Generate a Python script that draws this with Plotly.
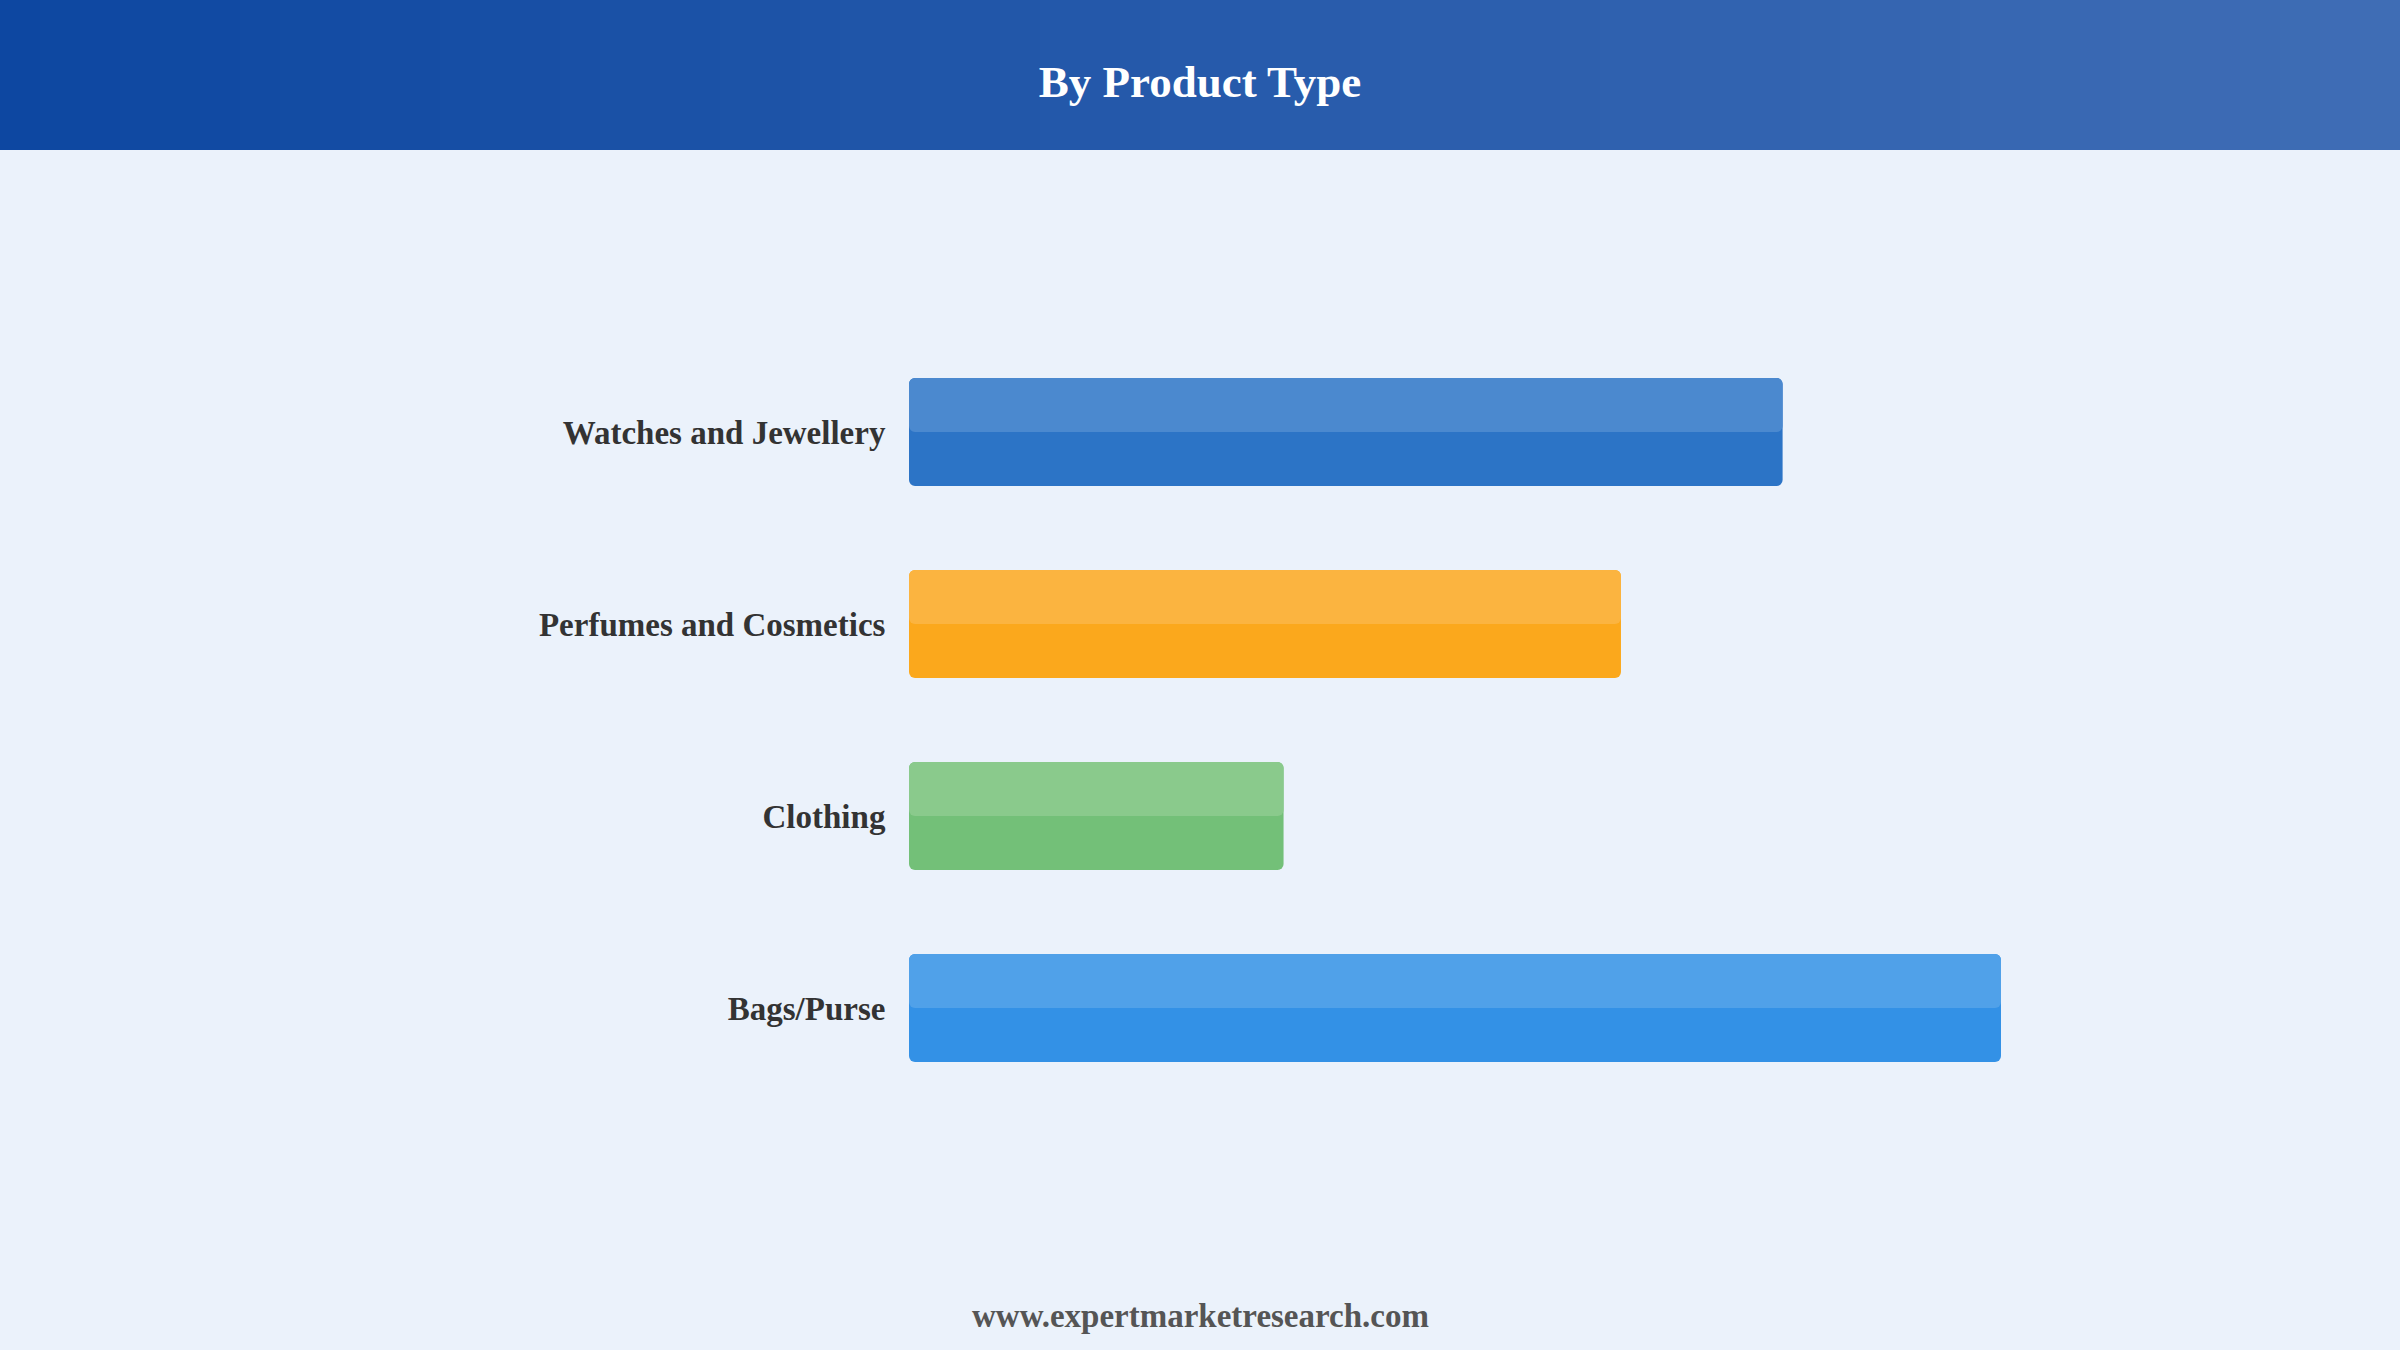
import plotly.graph_objects as go

categories = ["Watches and Jewellery", "Perfumes and Cosmetics", "Clothing", "Bags/Purse"]
values = [80, 65.2, 34.3, 100]
dark_colors = ["#2C74C6", "#FBA81C", "#73C078", "#3391E6"]
light_colors = ["#4B89CF", "#FBB440", "#8ACA8C", "#50A1E9"]

W, H = 2400, 1350
ML, MR, MT, MB = 909, 235, 336, 246
PW, PH = W - ML - MR, H - MT - MB

BAR_W = 0.5625
X_MAX = 100 * PW / 1092
RADIUS = 6

fig = go.Figure()


def add_bar(colors, width, offset):
    fig.add_trace(go.Bar(
        y=categories, x=values, base=[0] * len(values),
        orientation="h", width=width, offset=offset,
        marker=dict(color=colors, cornerradius=RADIUS, line=dict(width=0)),
        hoverinfo="skip", showlegend=False,
    ))


add_bar(dark_colors, BAR_W, -BAR_W / 2)
add_bar(light_colors, BAR_W / 2, -BAR_W / 2)


def px_to_paper_x(px):
    return (px - ML) / PW


def px_to_paper_y(py):
    return (H - MB - py) / PH


# header gradient band
c0 = (13, 71, 161)
c1 = (63, 109, 181)
n = 60
shapes = []
for i in range(n):
    t = i / (n - 1)
    col = tuple(round(c0[k] + (c1[k] - c0[k]) * t) for k in range(3))
    x0 = W * i / n
    x1 = W * (i + 1) / n + 1
    shapes.append(dict(
        type="rect", xref="paper", yref="paper",
        x0=px_to_paper_x(x0), x1=px_to_paper_x(x1),
        y0=px_to_paper_y(150), y1=px_to_paper_y(0),
        fillcolor="rgb(%d,%d,%d)" % col, line=dict(width=0), layer="below",
    ))

fig.update_layout(
    width=W, height=H,
    margin=dict(l=ML, r=MR, t=MT, b=MB, autoexpand=False),
    paper_bgcolor="#EBF2FB", plot_bgcolor="#EBF2FB",
    barmode="overlay",
    shapes=shapes,
    title=dict(
        text="<b>By Product Type</b>", x=0.5, xanchor="center",
        y=1 - 81 / H, yanchor="middle", yref="container",
        font=dict(family="Liberation Serif, Times New Roman, serif", size=45, color="#FFFFFF"),
    ),
    xaxis=dict(range=[0, X_MAX], visible=False, fixedrange=True),
    yaxis=dict(
        categoryorder="array", categoryarray=categories,
        autorange="reversed", showgrid=False, zeroline=False, showline=False,
        ticks="outside", ticklen=16, tickcolor="rgba(0,0,0,0)",
        tickfont=dict(family="Liberation Serif, Times New Roman, serif", size=33, color="#333333"),
        tickprefix="<b>", ticksuffix="</b>",
        fixedrange=True,
    ),
    annotations=[dict(
        text="<b>www.expertmarketresearch.com</b>", xref="paper", yref="paper",
        x=px_to_paper_x(1200), y=px_to_paper_y(1316), xanchor="center", yanchor="middle",
        showarrow=False,
        font=dict(family="Liberation Serif, Times New Roman, serif", size=33, color="#555555"),
    )],
)

fig.write_html("out.html", config={"displayModeBar": False},
               post_script="document.body.style.margin='0';document.body.style.background='#EBF2FB';")
